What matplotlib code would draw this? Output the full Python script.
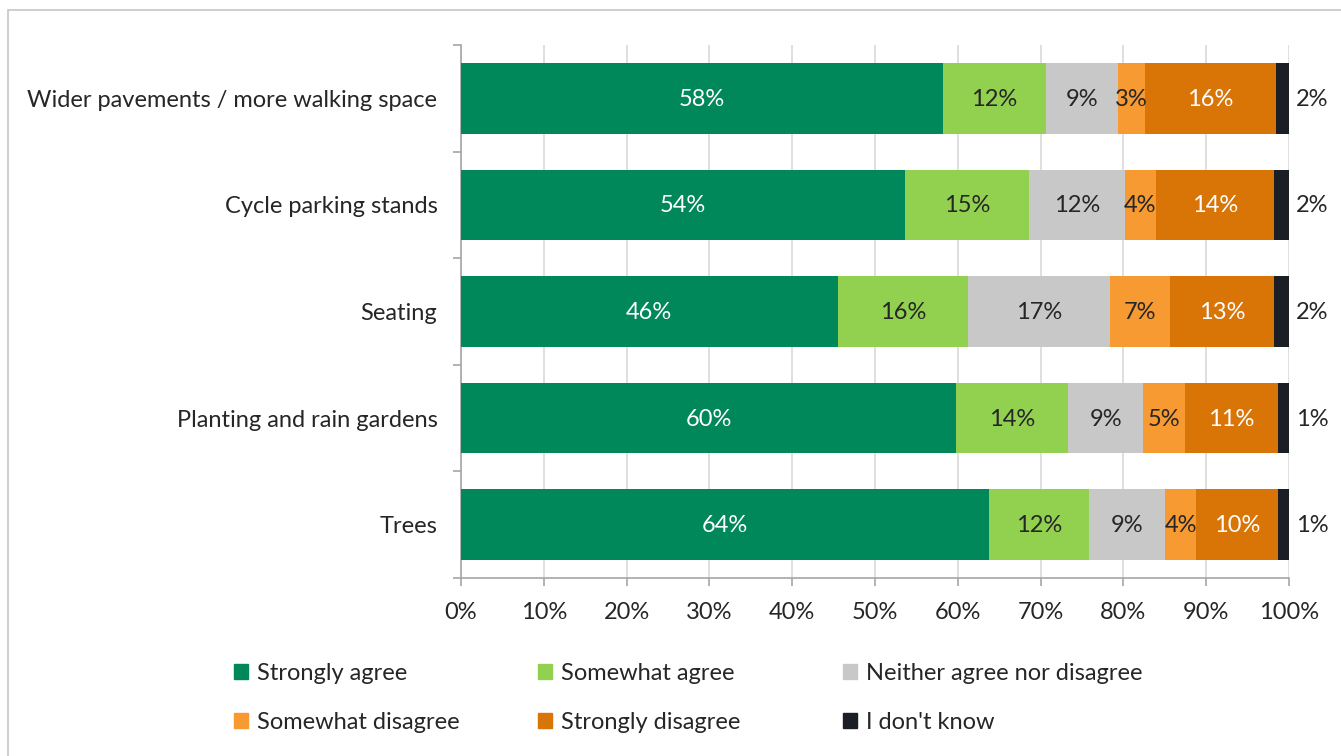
import matplotlib.pyplot as plt
from matplotlib.patches import Rectangle, Patch
import numpy as np

plt.rcParams['font.family'] = ['Lato', 'DejaVu Sans']

categories = ['Wider pavements / more walking space', 'Cycle parking stands', 'Seating',
              'Planting and rain gardens', 'Trees']
series = ['Strongly agree', 'Somewhat agree', 'Neither agree nor disagree',
          'Somewhat disagree', 'Strongly disagree', "I don't know"]
strongly_agree = [58.2, 53.6, 45.5, 59.8, 63.8]
somewhat_agree = [12.4, 15.0, 15.7, 13.5, 12.0]
neither = [8.7, 11.6, 17.2, 9.1, 9.2]
somewhat_disagree = [3.3, 3.7, 7.2, 5.0, 3.8]
strongly_disagree = [15.8, 14.3, 12.6, 11.3, 9.9]
dont_know = [1.6, 1.8, 1.8, 1.3, 1.3]
labels = [['58%', '54%', '46%', '60%', '64%'],
          ['12%', '15%', '16%', '14%', '12%'],
          ['9%', '12%', '17%', '9%', '9%'],
          ['3%', '4%', '7%', '5%', '4%'],
          ['16%', '14%', '13%', '11%', '10%'],
          ['2%', '2%', '2%', '1%', '1%']]

colors = ['#00875A', '#92D050', '#C8C8C8', '#F79A32', '#D97406', '#1B1E24']
text_colors = ['white', '#262626', '#262626', '#262626', 'white', '#262626']
dark = '#262626'
fs = 17

values = [strongly_agree, somewhat_agree, neither, somewhat_disagree, strongly_disagree, dont_know]

fig = plt.figure(figsize=(13.41, 7.56), dpi=100)
ax = fig.add_axes([461 / 1341, 1 - 578 / 756, 828 / 1341, 533 / 756])

# light border around the chart area
fig.patches.append(Rectangle((8 / 1341, -0.1), 1.2, 1 - 10 / 756 + 0.1,
                             transform=fig.transFigure, fill=False,
                             edgecolor='#C6C6C6', linewidth=1.2))

y = np.arange(len(categories))
left = np.zeros(len(categories))
for i, vals in enumerate(values):
    vals = np.array(vals)
    ax.barh(y, vals, left=left, height=0.664, color=colors[i], label=series[i], zorder=3)
    for j in range(len(categories)):
        if i < 5:
            ax.text(left[j] + vals[j] / 2, y[j] + 0.01, labels[i][j], ha='center', va='center',
                    color=text_colors[i], fontsize=fs, zorder=4)
        else:
            ax.annotate(labels[i][j], (left[j] + vals[j], y[j] + 0.01), xytext=(7, 0),
                        textcoords='offset pixels', ha='left', va='center',
                        color=dark, fontsize=fs)
    left += vals

ax.set_xlim(0, 100)
ax.set_ylim(4.5, -0.5)
ax.set_xticks(np.arange(0, 101, 10))
ax.set_xticklabels([f'{v}%' for v in range(0, 101, 10)])
ax.set_yticks(y)
ax.set_yticklabels(categories)
ax.set_yticks(np.arange(-0.5, 5, 1), minor=True)
ax.tick_params(axis='y', which='major', length=0, pad=17, labelsize=fs, labelcolor=dark)
ax.tick_params(axis='y', which='minor', length=6, color='#A6A6A6', width=1.2)
ax.tick_params(axis='x', length=6, color='#A6A6A6', width=1.2, pad=11,
               labelsize=fs, labelcolor=dark)
ax.grid(axis='x', color='#D9D9D9', linewidth=1.2, zorder=0)
for s in ['top', 'right']:
    ax.spines[s].set_visible(False)
for s in ['left', 'bottom']:
    ax.spines[s].set_color('#A6A6A6')
    ax.spines[s].set_linewidth(1.2)

# legend: three columns of two entries each
col_x = [222 / 1341, 526 / 1341, 831 / 1341]
for c in range(3):
    handles = [Patch(color=colors[c]), Patch(color=colors[c + 3])]
    names = [series[c], series[c + 3]]
    fig.legend(handles, names, loc='upper left', bbox_to_anchor=(col_x[c], 1 - 651 / 756),
               frameon=False, fontsize=fs, handlelength=0.6, handleheight=0.6,
               handletextpad=0.4, labelspacing=1.2, borderpad=0, labelcolor=dark)

fig.savefig('out.png', dpi=100)
